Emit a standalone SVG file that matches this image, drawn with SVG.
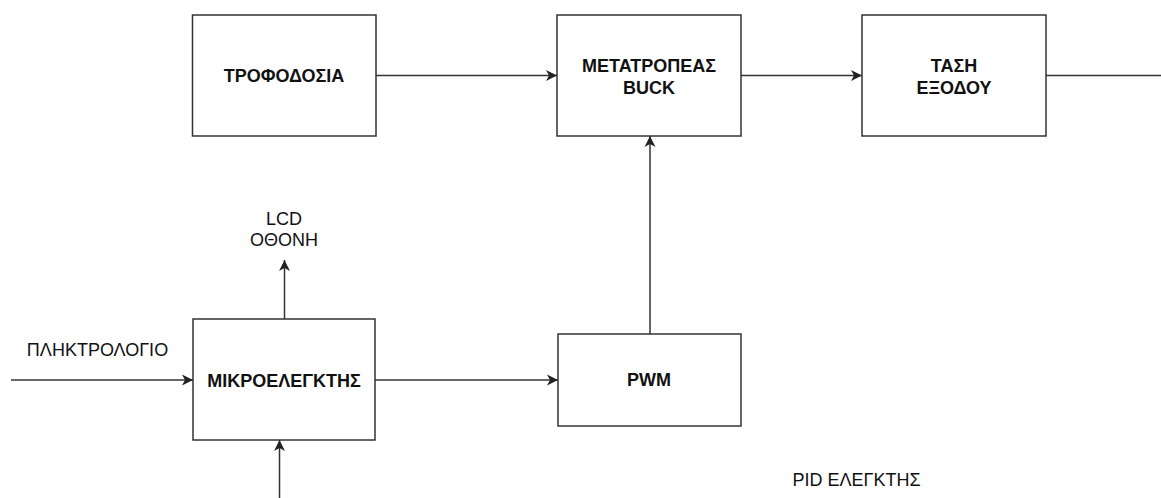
<svg xmlns="http://www.w3.org/2000/svg" width="1161" height="498" viewBox="0 0 1161 498">
<style>
.box{fill:#fff;stroke:#333;stroke-width:1.5}
.t{font-family:"Liberation Sans",Arial,sans-serif;font-size:18px;fill:#111;text-anchor:middle}
.b{font-weight:bold}
.c{fill:none;stroke:#333;stroke-width:1.5}
</style>
<defs>
<marker id="arr" markerUnits="userSpaceOnUse" markerWidth="14" markerHeight="14" viewBox="-12 -7 14 14" refX="0" refY="0" orient="auto">
<path d="M0,0 L-11,-5.5 L-8,0 L-11,5.5 Z" fill="#222"/>
</marker>
</defs>
<g id="connectors">
<line class="c" x1="376" y1="75.5" x2="557" y2="75.5" marker-end="url(#arr)"/>
<line class="c" x1="741" y1="75.5" x2="862" y2="75.5" marker-end="url(#arr)"/>
<line class="c" x1="1046" y1="75.5" x2="1161" y2="75.5"/>
<line class="c" x1="650" y1="334" x2="650" y2="136" marker-end="url(#arr)"/>
<line class="c" x1="375" y1="380" x2="558" y2="380" marker-end="url(#arr)"/>
<line class="c" x1="11" y1="380" x2="193" y2="380" marker-end="url(#arr)"/>
<line class="c" x1="284.5" y1="319" x2="284.5" y2="260" marker-end="url(#arr)"/>
<line class="c" x1="279.5" y1="498" x2="279.5" y2="440" marker-end="url(#arr)"/>
</g>
<g id="trofodosia">
<rect class="box" x="192.5" y="15" width="183.5" height="121"/>
<text class="t b" x="284" y="82">ΤΡΟΦΟΔΟΣΙΑ</text>
</g>
<g id="metatropeas">
<rect class="box" x="557" y="15" width="184" height="121"/>
<text class="t b" x="649" y="72">ΜΕΤΑΤΡΟΠΕΑΣ</text>
<text class="t b" x="649" y="94">BUCK</text>
</g>
<g id="tash">
<rect class="box" x="862" y="15" width="184" height="121"/>
<text class="t b" x="954" y="72">ΤΑΣΗ</text>
<text class="t b" x="954" y="94">ΕΞΟΔΟΥ</text>
</g>
<g id="mikroelegktis">
<rect class="box" x="193" y="319" width="182" height="121"/>
<text class="t b" x="284" y="387">ΜΙΚΡΟΕΛΕΓΚΤΗΣ</text>
</g>
<g id="pwm">
<rect class="box" x="558" y="334" width="183" height="92"/>
<text class="t b" x="649" y="386">PWM</text>
</g>
<g id="lcd">
<text class="t" x="284" y="225">LCD</text>
<text class="t" x="284" y="246">ΟΘΟΝΗ</text>
</g>
<g id="keyboard">
<text class="t" x="97.5" y="356">ΠΛΗΚΤΡΟΛΟΓΙΟ</text>
</g>
<g id="pid">
<text class="t" x="856.5" y="486">PID ΕΛΕΓΚΤΗΣ</text>
</g>
</svg>
